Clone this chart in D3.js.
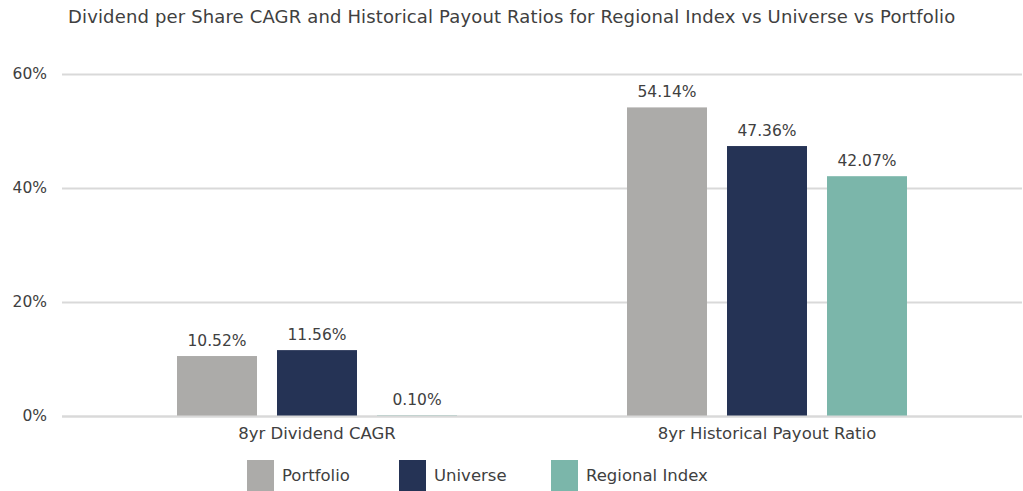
<!DOCTYPE html>
<html lang="en">
<head>
<meta charset="utf-8">
<title>Dividend per Share CAGR</title>
<script src="https://cdn.jsdelivr.net/npm/d3@7"></script>
<style>
  html, body { margin: 0; padding: 0; background: #fff; }
  body { font-family: 'DejaVu Sans', sans-serif; }
  .grid line { stroke: #d9d9d9; stroke-width: 2px; }
  .grid path { display: none; }
  text { fill: #404040; }
</style>
</head>
<body>
<script>
// data
var categories = ["8yr Dividend CAGR", "8yr Historical Payout Ratio"];
var series = ["Portfolio", "Universe", "Regional Index"];
var portfolio = [10.52, 54.14];
var universe = [11.56, 47.36];
var regional = [0.10, 42.07];
var colors = ["#acaba9", "#253355", "#7bb6aa"];
var yTicks = [0, 20, 40, 60];

var w = 1023, h = 491;
var values = [portfolio, universe, regional];

var svg = d3.select("body").append("svg")
  .attr("width", w)
  .attr("height", h);

svg.append("text")
  .attr("x", 68)
  .attr("y", 23)
  .attr("font-size", 18)
  .attr("letter-spacing", 0.15)
  .text("Dividend per Share CAGR and Historical Payout Ratios for Regional Index vs Universe vs Portfolio");

var y = d3.scaleLinear().domain([0, 60]).range([416, 74]);
var x0 = d3.scaleBand().domain(categories).range([92, 992]);
var x1 = d3.scaleBand().domain(series).range([0, 280]).paddingInner(0.2);

// gridlines
svg.append("g")
  .attr("class", "grid")
  .attr("transform", "translate(62,0)")
  .call(d3.axisRight(y).tickValues(yTicks).tickSize(960).tickFormat(""));

// y labels
svg.append("g").selectAll("text")
  .data(yTicks)
  .join("text")
  .attr("x", 47)
  .attr("y", d => y(d))
  .attr("dy", "0.35em")
  .attr("text-anchor", "end")
  .attr("font-size", 15.5)
  .text(d => d + "%");

// bars
var groups = svg.append("g").selectAll("g")
  .data(categories)
  .join("g")
  .attr("transform", d => "translate(" + (x0(d) + x0.bandwidth() / 2 - 140) + ",0)");

groups.selectAll("rect")
  .data((c, i) => series.map((s, j) => ({ s: s, v: values[j][i], c: colors[j] })))
  .join("rect")
  .attr("x", d => x1(d.s))
  .attr("y", d => y(d.v))
  .attr("width", x1.bandwidth())
  .attr("height", d => y(0) - y(d.v))
  .attr("fill", d => d.c);

groups.selectAll("text")
  .data((c, i) => series.map((s, j) => ({ s: s, v: values[j][i] })))
  .join("text")
  .attr("x", d => x1(d.s) + x1.bandwidth() / 2)
  .attr("y", d => y(d.v) - 10)
  .attr("text-anchor", "middle")
  .attr("font-size", 15.5)
  .text(d => d.v.toFixed(2) + "%");

// zero line on top of bars
svg.append("g")
  .attr("class", "grid")
  .attr("transform", "translate(62,0)")
  .call(d3.axisRight(y).tickValues([0]).tickSize(960).tickFormat(""));

// category labels
svg.append("g").selectAll("text")
  .data(categories)
  .join("text")
  .attr("x", d => x0(d) + x0.bandwidth() / 2)
  .attr("y", 439)
  .attr("text-anchor", "middle")
  .attr("font-size", 16.5)
  .text(d => d);

// legend
var legendX = [247, 399, 551];
var legend = svg.append("g").selectAll("g")
  .data(series)
  .join("g")
  .attr("transform", (d, i) => "translate(" + legendX[i] + ",460)");

legend.append("rect")
  .attr("width", 27)
  .attr("height", 31)
  .attr("fill", (d, i) => colors[i]);

legend.append("text")
  .attr("x", 35)
  .attr("y", 21)
  .attr("font-size", 16.5)
  .text(d => d);
</script>
</body>
</html>
